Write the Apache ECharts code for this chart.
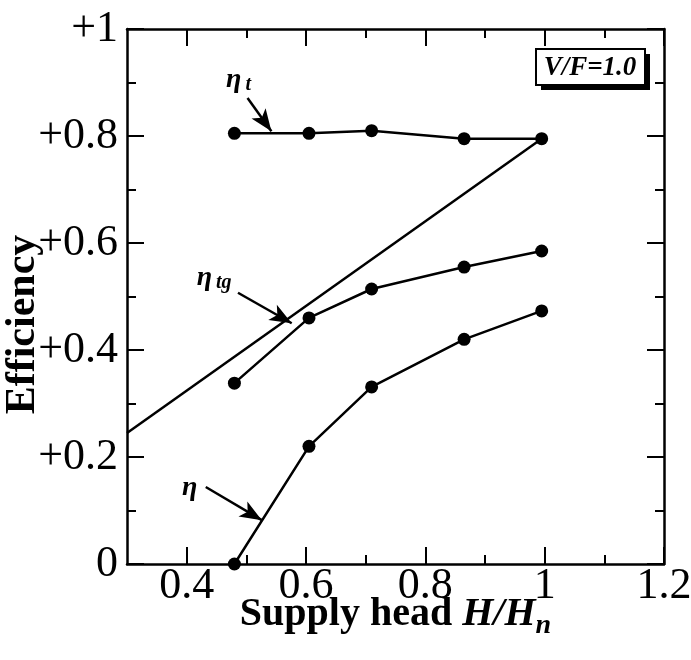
<!DOCTYPE html>
<html><head><meta charset="utf-8">
<script src="https://cdn.jsdelivr.net/npm/echarts@6/dist/echarts.min.js"></script>
<style>html,body{margin:0;padding:0;background:#fff}#c{width:691px;height:660px}</style>
</head><body><div id="c"></div>
<script>
// ---- data ----
const headRatio = [0.48, 0.605, 0.71, 0.865, 0.995];
const etaT  = [0.805, 0.805, 0.81, 0.795, 0.795];
const etaTG = [0.338, 0.46, 0.514, 0.555, 0.585];
const eta   = [0, 0.22, 0.331, 0.42, 0.473];
const refLineX = [0.3, 0.995];
const refLineY = [0.245, 0.795];
const xMajorTicks = [0.4, 0.6, 0.8, 1.0, 1.2];
const xMinorTicks = [0.5, 0.7, 0.9, 1.1];
const yTickLabels = ['0', '+0.2', '+0.4', '+0.6', '+0.8', '+1'];
// annotation arrows (tail -> tip) and label anchors, in data units
const arrowEtaT  = [[0.502, 0.871], [0.542, 0.809]];
const arrowEtaTG = [[0.486, 0.507], [0.576, 0.450]];
const arrowEta   = [[0.432, 0.144], [0.526, 0.082]];
const labelEtaT  = [0.487, 0.905];
const labelEtaTG = [0.446, 0.535];
const labelEta   = [0.405, 0.142];
const boxText = 'V/F=1.0';

const FF = '"Liberation Serif", "Times New Roman", serif';
const pair = (xs, ys) => xs.map((x, i) => [x, ys[i]]);

function xAxis(pos, ticks, len, withLabels, showLine) {
  const a = {
    type: 'value', min: 0.3, max: 1.2, position: pos,
    axisLine: { show: showLine, onZero: false, lineStyle: { color: '#000', width: 2.5 } },
    axisTick: { show: true, inside: true, length: len, customValues: ticks, lineStyle: { color: '#000', width: 2 } },
    axisLabel: { show: withLabels, customValues: ticks, fontFamily: FF, fontSize: 44, color: '#000', margin: 0,
                 hideOverlap: false, formatter: v => String(+(+v).toFixed(1)) },
    splitLine: { show: false }
  };
  if (withLabels) {
    a.name = 'Supply head {i|H/H}{s|n}';
    a.nameLocation = 'middle';
    a.nameGap = 26;
    a.nameMoveOverlap = false;
    a.nameTextStyle = {
      fontFamily: FF, fontSize: 40, fontWeight: 'bold', color: '#000',
      rich: {
        i: { fontFamily: FF, fontSize: 40, fontWeight: 'bold', fontStyle: 'italic', color: '#000' },
        s: { fontFamily: FF, fontSize: 28, fontWeight: 'bold', fontStyle: 'italic', color: '#000', padding: [22, 0, 0, 0] }
      }
    };
  }
  return a;
}
function yAxis(pos, withLabels) {
  const a = {
    type: 'value', min: 0, max: 1, interval: 0.2, position: pos,
    axisLine: { show: true, onZero: false, lineStyle: { color: '#000', width: 2.5 } },
    axisTick: { show: true, inside: true, length: 17, lineStyle: { color: '#000', width: 2 } },
    minorTick: { show: true, splitNumber: 2, length: 9, lineStyle: { color: '#000', width: 2 } },
    splitLine: { show: false }, minorSplitLine: { show: false },
    axisLabel: { show: withLabels, fontFamily: FF, fontSize: 44, color: '#000', margin: 9,
                 formatter: v => yTickLabels[Math.round(v / 0.2)] }
  };
  if (withLabels) {
    a.name = 'Efficiency';
    a.nameLocation = 'middle';
    a.nameGap = 83;
    a.nameMoveOverlap = false;
    a.nameTextStyle = { fontFamily: FF, fontSize: 42, fontWeight: 'bold', color: '#000', padding: [0, 56, 0, 0] };
  }
  return a;
}

function arrow(seg) {
  return [{ coord: seg[0], symbol: 'none' }, { coord: seg[1], symbol: 'arrow' }];
}
const greekRich = {
  e: { fontFamily: FF, fontSize: 28, fontWeight: 'bold', fontStyle: 'italic', color: '#000' },
  s: { fontFamily: FF, fontSize: 20, fontWeight: 'bold', fontStyle: 'italic', color: '#000', padding: [10, 0, 0, 4] }
};
function greekLabel(pos, txt) {
  return { coord: pos, symbol: 'circle', symbolSize: 2, itemStyle: { color: 'rgba(0,0,0,0)' },
           label: { show: true, position: 'inside', formatter: txt, rich: greekRich, color: '#000' } };
}
const lineCommon = {
  type: 'line', xAxisIndex: 0, yAxisIndex: 0, symbol: 'circle', symbolSize: 13,
  lineStyle: { color: '#000', width: 2.5 }, itemStyle: { color: '#000' }, silent: true
};
const markLineCommon = {
  silent: true, symbolSize: [13, 22], label: { show: false },
  lineStyle: { color: '#000', width: 2.5, type: 'solid' }, emphasis: { disabled: true }
};

const chart = echarts.init(document.getElementById('c'), null, { renderer: 'canvas' });
chart.setOption({
  animation: false,
  backgroundColor: '#fff',
  grid: { left: 127, right: 27, top: 29, bottom: 96, containLabel: false, outerBoundsMode: 'none' },
  xAxis: [
    xAxis('bottom', xMajorTicks, 17, true, true),
    xAxis('bottom', xMinorTicks, 9, false, false),
    xAxis('top', xMajorTicks, 17, false, true),
    xAxis('top', xMinorTicks, 9, false, false)
  ],
  yAxis: [yAxis('left', true), yAxis('right', false)],
  series: [
    Object.assign({}, lineCommon, {
      name: 'eta_t', data: pair(headRatio, etaT),
      markLine: Object.assign({}, markLineCommon, { data: [arrow(arrowEtaT)] }),
      markPoint: { silent: true, data: [greekLabel(labelEtaT, '{e|η}{s|t}')] }
    }),
    Object.assign({}, lineCommon, {
      name: 'eta_tg', data: pair(headRatio, etaTG),
      markLine: Object.assign({}, markLineCommon, { data: [arrow(arrowEtaTG)] }),
      markPoint: { silent: true, data: [greekLabel(labelEtaTG, '{e|η}{s|tg}')] }
    }),
    Object.assign({}, lineCommon, {
      name: 'eta', data: pair(headRatio, eta),
      markLine: Object.assign({}, markLineCommon, { data: [arrow(arrowEta)] }),
      markPoint: { silent: true, data: [greekLabel(labelEta, '{e|η}')] }
    }),
    Object.assign({}, lineCommon, {
      name: 'ref', data: pair(refLineX, refLineY), symbol: 'none'
    })
  ],
  graphic: [
    { type: 'rect', z: 100, shape: { x: 541, y: 54, width: 109, height: 36 }, style: { fill: '#000' } },
    { type: 'rect', z: 101, shape: { x: 536, y: 49, width: 109, height: 36 }, style: { fill: '#fff', stroke: '#000', lineWidth: 2 } },
    { type: 'text', z: 102, style: { text: boxText, x: 590, y: 68, align: 'center', verticalAlign: 'middle',
      font: 'italic bold 27px "Liberation Serif"', fill: '#000' } }
  ]
});
</script></body></html>
